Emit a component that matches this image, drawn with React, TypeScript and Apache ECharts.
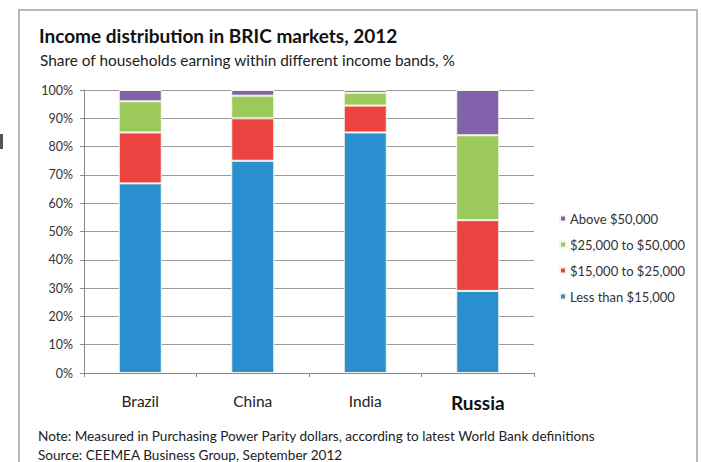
import React, { useEffect, useRef } from "react";
import * as echarts from "echarts";

const countries = ["Brazil", "China", "India", "Russia"];
const seriesNames = ["Less than $15,000", "$15,000 to $25,000", "$25,000 to $50,000", "Above $50,000"];
const lessThan15k = [67, 75, 85, 29];
const from15kTo25k = [18, 15, 9.5, 25];
const from25kTo50k = [11, 8, 4.5, 30];
const above50k = [4, 2, 1, 16];
const yTicks = [0, 10, 20, 30, 40, 50, 60, 70, 80, 90, 100];
const colors = ["#2a8fcf", "#ec4340", "#9bc95a", "#8262aa"];

const FONT = "Lato, 'Open Sans', sans-serif";

export default function App() {
  const ref = useRef<HTMLDivElement>(null);
  useEffect(() => {
    if (!ref.current) return;
    const chart = echarts.init(ref.current, null, { renderer: "svg" });
    const values = [lessThan15k, from15kTo25k, from25kTo50k, above50k];
    chart.setOption({
      animation: false,
      backgroundColor: "#ffffff",
      textStyle: { fontFamily: FONT },
      grid: { left: 84, right: 168, top: 90, bottom: 89 },
      legend: {
        orient: "vertical",
        left: 554,
        top: 207,
        itemWidth: 6,
        itemHeight: 6,
        itemGap: 13,
        icon: "rect",
        data: [...seriesNames].reverse(),
        textStyle: { fontSize: 13, color: "#333", fontFamily: FONT, padding: [0, 0, 0, -1] },
      },
      xAxis: {
        type: "category",
        data: countries,
        axisLine: { lineStyle: { color: "#888", width: 1 } },
        axisTick: { show: true, length: 4, lineStyle: { color: "#888" } },
        axisLabel: {
          margin: 20,
          fontSize: 15.5,
          color: "#222",
          fontFamily: FONT,
          formatter: (v: string) => (v === "Russia" ? "{b|" + v + "}" : v),
          rich: { b: { fontSize: 19, fontWeight: "bold", color: "#111", fontFamily: FONT } },
        },
      },
      yAxis: {
        type: "value",
        min: yTicks[0],
        max: yTicks[yTicks.length - 1],
        interval: 10,
        axisLine: { show: true, lineStyle: { color: "#888" } },
        axisTick: { show: true, length: 4, lineStyle: { color: "#888" } },
        splitLine: { lineStyle: { color: "#9a9a9a", width: 1 } },
        axisLabel: { formatter: "{value}%", fontSize: 12.5, color: "#333", margin: 11, fontFamily: FONT },
      },
      series: seriesNames.map((name, i) => ({
        name,
        type: "bar",
        stack: "total",
        barWidth: 43,
        data: values[i],
        itemStyle: { color: colors[i], borderColor: "#f4f4e8", borderWidth: 1 },
      })),
      graphic: [
        {
          type: "rect",
          shape: { x: 19, y: 10, width: 678, height: 470 },
          style: { fill: "none", stroke: "#b8b8b8", lineWidth: 2 },
          silent: true,
        },
        {
          type: "rect",
          shape: { x: 0, y: 134, width: 3, height: 15 },
          style: { fill: "#555" },
          silent: true,
        },
        {
          type: "text",
          left: 39,
          top: 26,
          style: { text: "Income distribution in BRIC markets, 2012", fontSize: 19, fontWeight: "bold", fill: "#111", fontFamily: FONT },
        },
        {
          type: "text",
          left: 40,
          top: 52,
          style: { text: "Share of households earning within different income bands, %", fontSize: 15.4, fill: "#222", fontFamily: FONT },
        },
        {
          type: "text",
          left: 38,
          top: 429,
          style: { text: "Note: Measured in Purchasing Power Parity dollars, according to latest World Bank definitions", fontSize: 13.6, fill: "#222", fontFamily: FONT },
        },
        {
          type: "text",
          left: 38,
          top: 448,
          style: { text: "Source: CEEMEA Business Group, September 2012", fontSize: 13.6, fill: "#222", fontFamily: FONT },
        },
      ],
    });
    return () => chart.dispose();
  }, []);
  return <div ref={ref} style={{ position: "absolute", left: 0, top: 0, width: 702, height: 462 }} />;
}
